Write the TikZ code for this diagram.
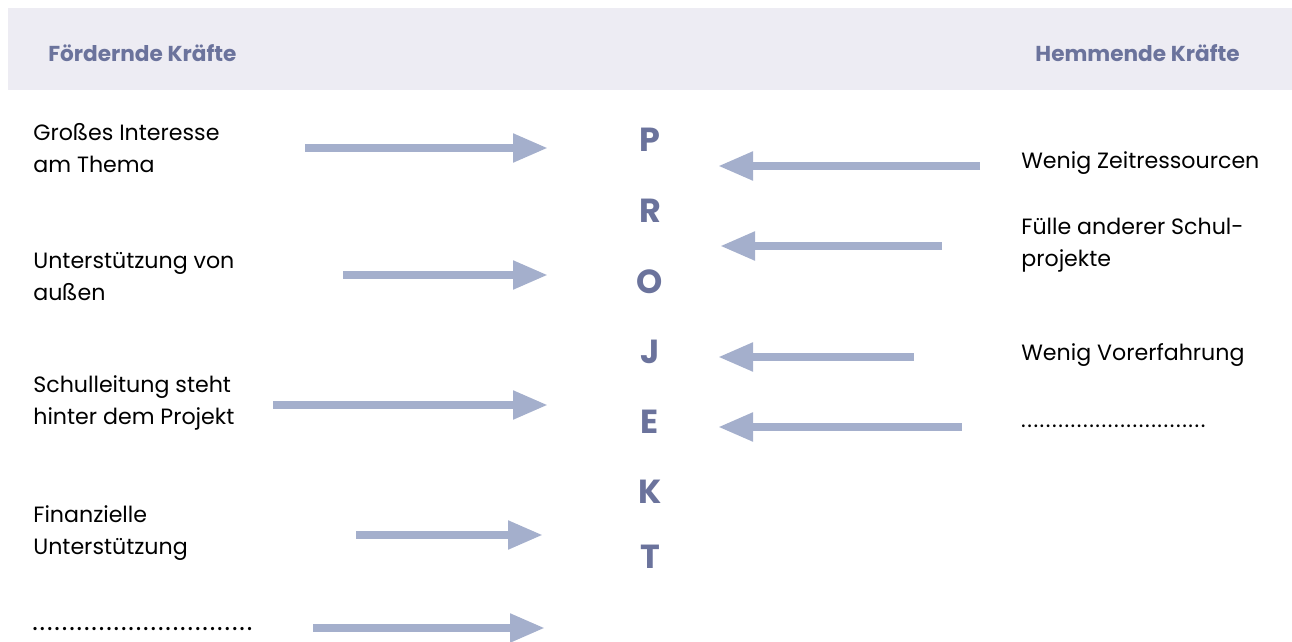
\documentclass[tikz,border=0pt]{standalone}
\usepackage{fontspec}
\setmainfont{Poppins}
\usetikzlibrary{arrows.meta}
\definecolor{bandgray}{HTML}{EDECF3}
\definecolor{headblue}{HTML}{6B739C}
\definecolor{arrowblue}{HTML}{A4AFCC}
\newcommand\dotrow[2]{\hbox to #1{\leaders\hbox to #2{\hss.\hss}\hfill}}
\tikzset{
  force/.style={anchor=west, align=left, inner sep=0pt, font=\fontsize{12.6}{18.2}\selectfont},
  head/.style={inner sep=0pt, text=headblue, font=\fontsize{12.3}{14}\selectfont\bfseries},
  letter/.style={inner sep=0pt, text=headblue, font=\fontsize{19}{22}\selectfont\bfseries},
  push/.style={draw=arrowblue, line width=0.16cm, -{Triangle[length=0.7cm, width=0.54cm]}}
}
\begin{document}
\begin{tikzpicture}[x=0.02cm, y=-0.02cm]
\useasboundingbox (0,0) rectangle (1292,642);
\fill[bandgray] (8,8) rectangle (1292,90);
\node[head, anchor=west] (pro) at (48,53) {Fördernde Kräfte};
\node[head, anchor=east] (contra) at (1240,53) {Hemmende Kräfte};
% Projekt
\node[letter] (p) at (650,140) {P};
\node[letter] (r) at (650,211) {R};
\node[letter] (o) at (650,282) {O};
\node[letter] (j) at (650,352) {J};
\node[letter] (e) at (650,422) {E};
\node[letter] (k) at (650,492) {K};
\node[letter] (t) at (650,557) {T};
% foerdernde Kraefte
\node[force] (interest) at (33,148) {Großes Interesse\\am Thema};
\node[force] (support) at (33,277) {Unterstützung von\\außen};
\node[force] (lead) at (33,403) {Schulleitung steht\\hinter dem Projekt};
\node[force] (money) at (33,533) {Finanzielle\\Unterstützung};
\node[force, font=\fontsize{15}{18}\selectfont] (moreL) at (31,629) {\dotrow{4.5cm}{0.148cm}};
% hemmende Kraefte
\node[force] (time) at (1021,163) {Wenig Zeitressourcen};
\node[force] (other) at (1021,245) {Fülle anderer Schul-\\projekte};
\node[force] (exp) at (1021,355) {Wenig Vorerfahrung};
\node[force] (moreR) at (1020,426) {\dotrow{3.72cm}{0.124cm}};
% Pfeile
\coordinate (a1s) at (305,148); \coordinate (a1e) at (548,148);
\coordinate (a2s) at (343,275); \coordinate (a2e) at (548,275);
\coordinate (a3s) at (273,405); \coordinate (a3e) at (548,405);
\coordinate (a4s) at (356,535); \coordinate (a4e) at (543,535);
\coordinate (a5s) at (313,628); \coordinate (a5e) at (545,628);
\coordinate (b1s) at (980,166); \coordinate (b1e) at (718,166);
\coordinate (b2s) at (942,246); \coordinate (b2e) at (720,246);
\coordinate (b3s) at (914,357); \coordinate (b3e) at (718,357);
\coordinate (b4s) at (962,427); \coordinate (b4e) at (718,427);
\draw[push] (a1s) -- (a1e);
\draw[push] (a2s) -- (a2e);
\draw[push] (a3s) -- (a3e);
\draw[push] (a4s) -- (a4e);
\draw[push] (a5s) -- (a5e);
\draw[push] (b1s) -- (b1e);
\draw[push] (b2s) -- (b2e);
\draw[push] (b3s) -- (b3e);
\draw[push] (b4s) -- (b4e);
\end{tikzpicture}
\end{document}
